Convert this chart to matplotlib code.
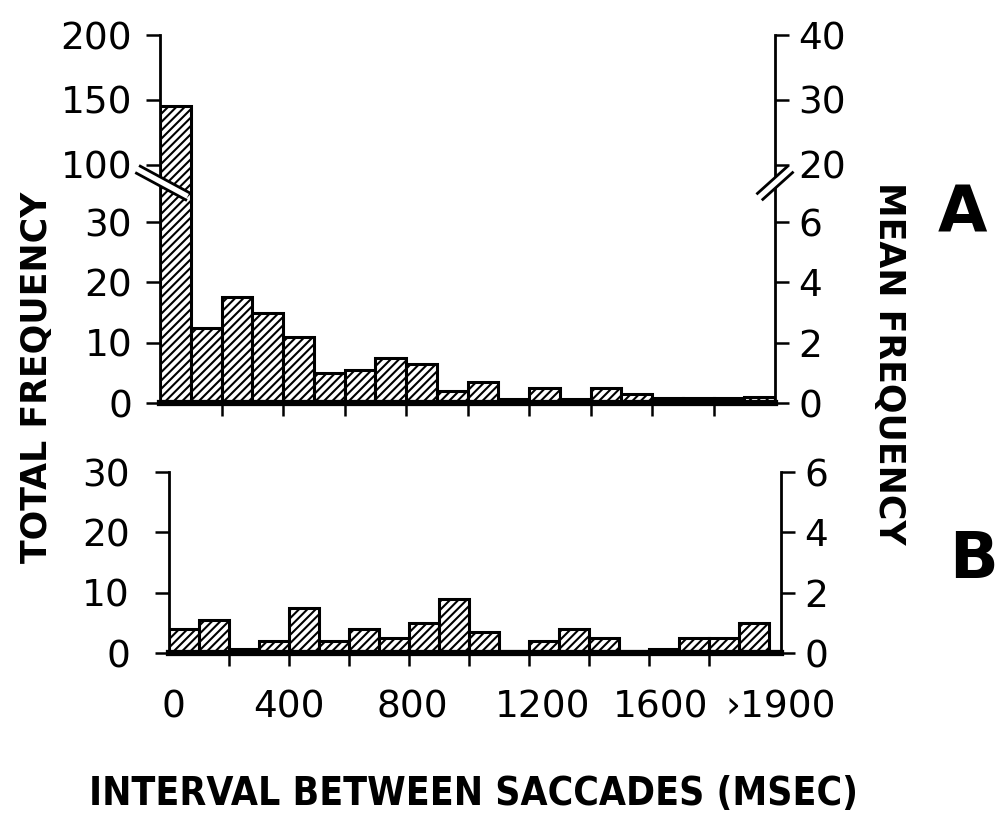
import numpy as np
import matplotlib
matplotlib.use('Agg')
import matplotlib.pyplot as plt
from matplotlib.patches import Polygon
from matplotlib.lines import Line2D

### DATA ###

# left edges of the 100 msec bins (last bin is >1900)
bin_left = [0, 100, 200, 300, 400, 500, 600, 700, 800, 900,
            1000, 1100, 1200, 1300, 1400, 1500, 1600, 1700, 1800, 1900]

# total frequency per bin
total_a = [145, 12.5, 17.5, 15, 11, 5, 5.5, 7.5, 6.5, 2,
           3.5, 0.7, 2.5, 0.6, 2.5, 1.5, 0.8, 0.8, 0.8, 1]
total_b = [4, 5.5, 0.7, 2, 7.5, 2, 4, 2.5, 5, 9,
           3.5, 0, 2, 4, 2.5, 0, 0.7, 2.5, 2.5, 5]

left_ticks_a = [0, 10, 20, 30, 100, 150, 200]
right_ticks_a = [0, 2, 4, 6, 20, 30, 40]
left_ticks_b = [0, 10, 20, 30]
right_ticks_b = [0, 2, 4, 6]

x_marks = [200, 400, 600, 800, 1000, 1200, 1400, 1600, 1800]
x_labels = ['0', '400', '800', '1200', '1600', '\u203a1900']
x_label_pos = [15, 400, 810, 1245, 1640, 2040]   # where the hand lettering sits

### BROKEN SCALE (0-36 linear, squeeze, 100-200 compressed) ###

def fwd(v):
    v = np.asarray(v, dtype=float)
    return np.where(v <= 36, v,
                    np.where(v < 100, 36 + (v - 36) * 3.5 / 64,
                             39.5 + (v - 100) * 0.215))

def inv(s):
    s = np.asarray(s, dtype=float)
    return np.where(s <= 36, s,
                    np.where(s < 39.5, 36 + (s - 36) * 64 / 3.5,
                             100 + (s - 39.5) / 0.215))

### STYLE ###

plt.rcParams['font.family'] = ['DejaVu Sans']
plt.rcParams['hatch.linewidth'] = 1.5
W, H = 997, 817
tick_fs = 27
lw_spine = 2.0

fig = plt.figure(figsize=(W / 100, H / 100), dpi=100)

def px(x0, y0, x1, y1):
    # pixel box (top-left origin) -> figure fraction rect
    return [x0 / W, 1 - y1 / H, (x1 - x0) / W, (y1 - y0) / H]

def style(ax, side, pad):
    for s in ['top', 'left', 'right', 'bottom']:
        ax.spines[s].set_visible(False)
    ax.spines[side].set_visible(True)
    ax.spines[side].set_linewidth(lw_spine)
    ax.tick_params(axis='y', direction='out', length=10, width=1.8,
                   labelsize=tick_fs, pad=pad)

def bars(ax, vals):
    ax.bar(bin_left, vals, width=100, align='edge', color='white',
           edgecolor='black', linewidth=2.2, hatch='////', zorder=2)
    ax.set_xlim(0, 2000)
    ax.set_xticks(x_marks)
    ax.set_xticklabels([])
    ax.tick_params(axis='x', which='major', direction='out', length=9, width=1.8)

def base(ax):
    ax.spines['bottom'].set_visible(True)
    ax.spines['bottom'].set_linewidth(4.5)
    ax.spines['bottom'].set_zorder(3)

### PANEL A ###

axA = fig.add_axes(px(160, 35, 775, 403))
bars(axA, total_a)
axA.set_yscale('function', functions=(fwd, inv))
axA.set_ylim(0, 200)
style(axA, 'left', 10)
base(axA)
axA.set_yticks(left_ticks_a)
axA.set_yticklabels([str(t) for t in left_ticks_a])
axA.yaxis.set_minor_locator(plt.NullLocator())

axAr = axA.twinx()
axAr.set_yscale('function', functions=(lambda v: fwd(np.asarray(v) * 5),
                                       lambda s: inv(s) / 5))
axAr.set_ylim(0, 40)
style(axAr, 'right', 7)
axAr.set_yticks(right_ticks_a)
axAr.set_yticklabels([str(t) for t in right_ticks_a])
axAr.yaxis.set_minor_locator(plt.NullLocator())

### PANEL B ###

axB = fig.add_axes(px(169, 472, 781, 653))
bars(axB, total_b)
axB.set_ylim(0, 30)
style(axB, 'left', 18)
base(axB)
axB.set_yticks(left_ticks_b)
axB.xaxis.remove_overlapping_locs = False
axB.set_xticks(x_label_pos, minor=True)
axB.set_xticklabels(x_labels, minor=True)
axB.tick_params(axis='x', which='minor', length=0, labelsize=tick_fs, pad=26)

axBr = axB.twinx()
axBr.set_ylim(0, 6)
style(axBr, 'right', 7)
axBr.set_yticks(right_ticks_b)

### BREAK MARKS ###

def brk(cx, cy, d, half, sep):
    d = np.array(d, float) / np.hypot(*d)
    n = np.array([-d[1], d[0]])
    c = np.array([cx, cy])
    a1, b1 = c - half * d - sep * n, c + half * d - sep * n
    a2, b2 = c - half * d + sep * n, c + half * d + sep * n
    f = lambda p: (p[0] / W, 1 - p[1] / H)
    fig.patches.append(Polygon([f(a1), f(b1), f(b2), f(a2)], closed=True,
                               transform=fig.transFigure, facecolor='white',
                               edgecolor='none', zorder=10))
    for a, b in [(a1, b1), (a2, b2)]:
        fig.lines.append(Line2D([f(a)[0], f(b)[0]], [f(a)[1], f(b)[1]],
                                transform=fig.transFigure, color='black',
                                linewidth=2.0, zorder=11))

brk(163, 183, (50, 27), 28, 4)
brk(775, 183, (30, -27), 20, 4)

### TEXT ###

fig.text(37 / W, 1 - 377 / H, 'TOTAL FREQUENCY', rotation=90, ha='center',
         va='center', fontsize=25, fontweight='bold')
fig.text(889 / W, 1 - 363 / H, 'MEAN FREQUENCY', rotation=270, ha='center',
         va='center', fontsize=25, fontweight='bold')
fig.text(962 / W, 1 - 214 / H, 'A', ha='center', va='center',
         fontsize=46, fontweight='bold')
fig.text(973 / W, 1 - 560 / H, 'B', ha='center', va='center',
         fontsize=46, fontweight='bold')
fig.text(473 / W, 1 - 794 / H, 'INTERVAL BETWEEN SACCADES (MSEC)',
         ha='center', va='center', fontsize=28, fontweight='bold',
         fontstretch='condensed')

fig.savefig('out.png', dpi=100, facecolor='white')
